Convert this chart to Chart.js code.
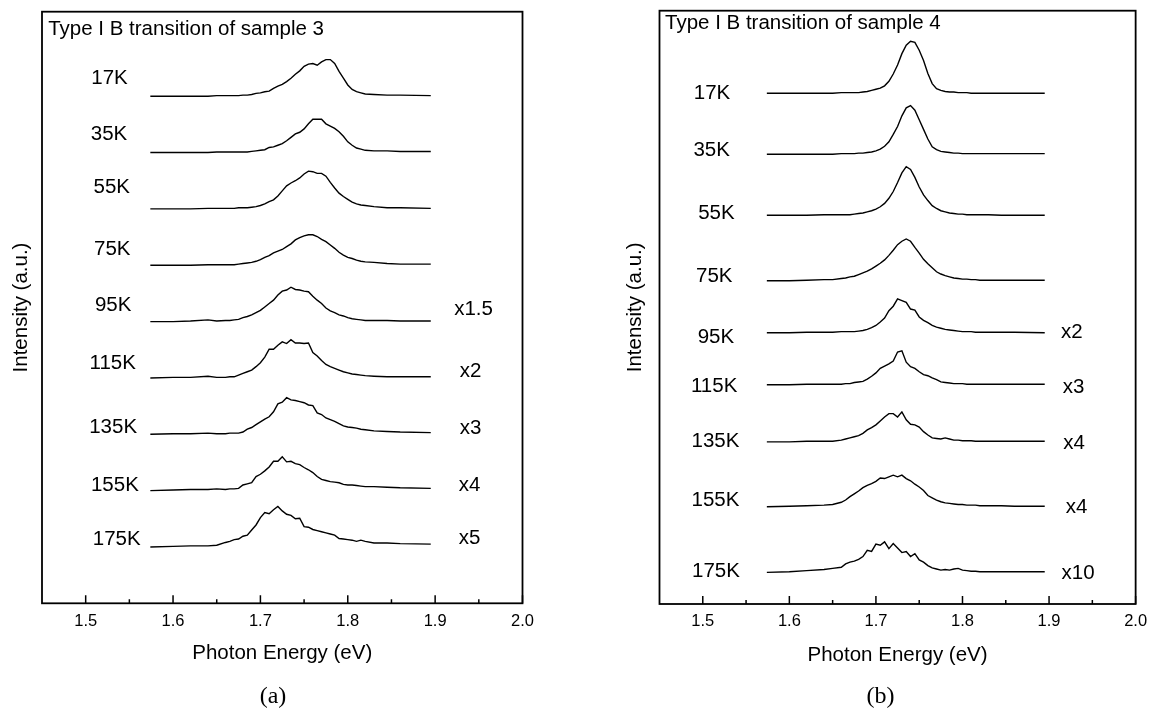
<!DOCTYPE html>
<html>
<head>
<meta charset="utf-8">
<title>Type I B transition</title>
<script src="https://cdn.jsdelivr.net/npm/chart.js@4.4.1/dist/chart.umd.min.js"></script>
<style>
  body { margin: 0; background: #fff; }
  #wrap { position: relative; width: 1155px; height: 708px; }
  #wrap canvas { position: absolute; top: 0; }
</style>
</head>
<body>
<div id="wrap">
  <canvas id="chartA" width="560" height="708" style="left:0"></canvas>
  <canvas id="chartB" width="575" height="708" style="left:580px"></canvas>
</div>
<script>
// Energy grid shared by every spectrum (eV)
const energies = [1.574, 1.600, 1.620, 1.640, 1.650,
  1.660, 1.665, 1.670, 1.675, 1.680, 1.685, 1.690, 1.695, 1.700, 1.705,
  1.710, 1.715, 1.720, 1.725, 1.730, 1.735, 1.740, 1.745, 1.750, 1.755,
  1.760, 1.765, 1.770, 1.775, 1.780, 1.785, 1.790, 1.795, 1.800, 1.805,
  1.810, 1.815, 1.820, 1.830, 1.845, 1.860, 1.895];

const temperatures = ['17K', '35K', '55K', '75K', '95K', '115K', '135K', '155K', '175K'];
const majorTicks = [1.5, 1.6, 1.7, 1.8, 1.9, 2.0];
const minorTicks = [1.55, 1.65, 1.75, 1.85, 1.95];

// Sample 3: vertical offsets and intensities (a.u.)
const offsetsA = [900, 800, 700, 600, 500, 400, 300, 200, 100];
const factorsA = ['', '', '', '', 'x1.5', 'x2', 'x3', 'x4', 'x5'];
const a17  = [0,0,0,0,1,1,1,1,1,2,2,3,5,6,8,9,14,18,21,26,32,39,45,53,57,58,55,61,65,65,58,44,32,20,12,8,6,4,3,2,2,1];
const a35  = [0,0,0,0,1,1,1,1,1,1,1,2,3,4,5,9,10,13,16,21,27,33,36,42,51,59,59,59,51,47,43,37,29,19,13,8,6,4,3,3,2,2];
const a55  = [0,0,0,1,1,1,1,1,2,2,2,3,4,6,9,13,16,23,32,41,46,50,55,62,67,66,63,63,58,47,37,28,22,17,12,9,7,6,4,2,2,1];
const a75  = [0,0,0,1,1,1,1,1,2,3,4,5,7,10,14,17,22,25,28,33,38,45,49,52,54,54,51,46,42,36,30,23,18,14,12,9,7,6,5,3,2,2];
const a95  = [0,0,1,3,1,2,2,3,4,7,9,12,16,20,26,32,38,47,54,56,61,57,56,54,53,45,38,32,24,19,16,12,10,7,5,4,3,2,2,2,1,1];
const a115 = [0,1,1,3,1,1,2,2,5,8,11,14,20,27,37,51,51,58,64,61,68,62,62,61,62,45,39,31,24,20,17,14,11,9,7,6,5,4,3,2,2,2];
const a135 = [0,1,1,2,1,1,2,2,2,4,9,12,17,22,27,31,40,54,57,65,61,60,58,56,52,51,38,35,29,26,23,19,15,13,12,11,9,8,6,5,4,3];
const a155 = [0,1,2,2,3,2,3,3,4,10,12,14,25,29,35,42,52,52,60,51,52,48,46,41,37,32,25,20,18,16,15,14,11,10,10,9,8,7,7,6,5,4];
const a175 = [0,1,2,2,3,8,10,13,14,19,21,30,39,52,61,59,66,72,64,58,56,50,51,36,35,31,29,27,25,23,21,15,14,13,12,10,12,10,7,7,6,5];

// Sample 4: vertical offsets and intensities (a.u.)
const offsetsB = [904, 796, 688, 572, 480, 388, 287, 172, 56];
const factorsB = ['', '', '', '', 'x2', 'x3', 'x4', 'x4', 'x10'];
const b17  = [0,0,0,0,0,1,1,1,1,1,2,3,5,7,9,13,21,34,50,70,85,92,90,76,58,35,17,8,5,3,2,2,1,1,1,0,0,0,0,0,0,0];
const b35  = [0,0,0,0,0,1,1,1,1,2,2,3,4,6,9,14,22,35,49,68,82,86,78,61,44,27,13,8,5,4,3,2,2,1,1,1,1,1,1,1,1,1];
const b55  = [0,0,0,1,1,1,1,1,2,3,4,6,8,11,15,21,30,42,58,75,86,81,67,50,36,26,17,12,8,6,4,3,2,2,1,1,1,1,1,0,0,0];
const b75  = [0,0,1,2,2,4,5,7,8,11,14,17,21,26,31,37,45,54,64,70,74,70,59,49,38,30,23,16,12,9,7,5,4,3,3,2,2,1,1,1,1,1];
const b95  = [0,0,1,1,1,2,2,2,2,3,4,6,9,13,19,26,39,47,60,57,54,42,40,28,22,18,13,10,8,6,5,4,3,2,2,2,1,1,1,1,1,0];
const b115 = [0,0,1,1,1,1,2,2,4,5,6,10,15,21,29,33,37,42,58,60,40,32,29,23,18,16,12,9,5,4,3,2,2,2,1,1,1,1,1,1,1,1];
const b135 = [0,0,1,1,1,3,5,7,9,11,15,21,25,30,37,44,50,50,44,53,39,31,30,26,18,12,7,6,5,7,5,3,3,2,2,2,1,1,1,1,1,1];
const b155 = [0,1,2,3,4,8,12,18,23,28,34,38,41,45,51,50,53,56,53,56,50,46,40,35,29,20,16,12,9,7,6,5,4,4,3,3,3,2,2,2,1,1];
const b175 = [0,1,3,5,7,9,15,18,20,23,28,39,37,50,48,54,42,51,43,35,37,28,33,22,18,12,8,6,4,5,4,6,7,4,3,2,2,1,1,1,1,1];

const sans = '"Liberation Sans", Arial, Helvetica, sans-serif';
const serif = '"Liberation Serif", "Times New Roman", serif';

Chart.defaults.font.family = sans;
Chart.defaults.color = '#000';

// Frame, inward ticks and all the free text of a panel
const panelDecor = {
    id: 'panelDecor',
    afterDraw(chart, args, opts) {
        const { ctx, chartArea: area, scales: { x, y } } = chart;
        ctx.save();
        ctx.strokeStyle = '#000';
        ctx.lineWidth = 1.8;
        ctx.strokeRect(area.left, area.top, area.right - area.left, area.bottom - area.top);

        ctx.lineWidth = 1.5;
        ctx.beginPath();
        majorTicks.forEach(v => {
            const px = x.getPixelForValue(v);
            ctx.moveTo(px, area.bottom);
            ctx.lineTo(px, area.bottom - 8);
        });
        minorTicks.forEach(v => {
            const px = x.getPixelForValue(v);
            ctx.moveTo(px, area.bottom);
            ctx.lineTo(px, area.bottom - 4);
        });
        ctx.stroke();

        ctx.fillStyle = '#000';
        ctx.font = '20.5px ' + sans;
        ctx.textBaseline = 'middle';
        ctx.textAlign = 'left';
        ctx.fillText(opts.title, area.left + opts.titleDx, area.top + opts.titleDy);

        ctx.textAlign = 'center';
        temperatures.forEach((t, i) => {
            ctx.fillText(t, x.getPixelForValue(opts.labelE[i]), y.getPixelForValue(opts.labelY[i]));
        });
        opts.factors.forEach((f, i) => {
            if (f) {
                ctx.fillText(f, x.getPixelForValue(opts.factorE[i]), y.getPixelForValue(opts.factorY[i]));
            }
        });

        ctx.font = '24px ' + serif;
        ctx.fillText(opts.caption, opts.captionX, opts.captionY);
        ctx.restore();
    }
};

function buildPanel(canvasId, p) {
    const datasets = p.series.map((vals, i) => ({
        label: temperatures[i],
        data: energies.map((e, j) => ({ x: e, y: p.offsets[i] + vals[j] })),
        showLine: true,
        borderColor: '#000',
        borderWidth: 1.4,
        pointRadius: 0,
        fill: false,
        tension: 0
    }));

    return new Chart(document.getElementById(canvasId), {
        type: 'scatter',
        data: { datasets },
        options: {
            responsive: false,
            animation: false,
            events: [],
            layout: { padding: p.padding },
            plugins: {
                legend: { display: false },
                tooltip: { enabled: false },
                panelDecor: p.decor
            },
            scales: {
                x: {
                    type: 'linear',
                    min: 1.45,
                    max: 2.0,
                    grid: { display: false, drawTicks: false },
                    border: { display: false },
                    afterBuildTicks: scale => {
                        scale.ticks = majorTicks.map(v => ({ value: v }));
                    },
                    ticks: {
                        autoSkip: false,
                        padding: p.tickPadding,
                        font: { size: 16.5 },
                        callback: v => v.toFixed(1)
                    },
                    title: {
                        display: true,
                        text: 'Photon Energy (eV)',
                        font: { size: 20.5 },
                        padding: { top: p.xTitlePad, bottom: 0 }
                    }
                },
                y: {
                    min: 0,
                    max: 1050,
                    grid: { display: false, drawTicks: false },
                    border: { display: false },
                    ticks: { display: false },
                    title: {
                        display: true,
                        text: 'Intensity (a.u.)',
                        font: { size: 20.5 },
                        padding: { top: 0, bottom: p.yTitlePad }
                    }
                }
            }
        },
        plugins: [panelDecor]
    });
}

buildPanel('chartA', {
    series: [a17, a35, a55, a75, a95, a115, a135, a155, a175],
    offsets: offsetsA,
    padding: { left: 9.1, right: 37.5, top: 11.7, bottom: 42.4 },
    tickPadding: 8.6,
    xTitlePad: 0.7,
    yTitlePad: 8.3,
    decor: {
        title: 'Type I B transition of sample 3',
        titleDx: 6.2,
        titleDy: 17.3,
        labelE: [1.5273, 1.5267, 1.5298, 1.5304, 1.5314, 1.5309, 1.5314, 1.5334, 1.5355],
        labelY: [932, 832, 739, 628, 528, 425, 312, 210, 114],
        factors: factorsA,
        factorE: [0, 0, 0, 0, 1.944, 1.9407, 1.9407, 1.9394, 1.9394],
        factorY: [0, 0, 0, 0, 521, 411, 311, 210, 115],
        caption: '(a)',
        captionX: 273,
        captionY: 697
    }
});

buildPanel('chartB', {
    series: [b17, b35, b55, b75, b95, b115, b135, b155, b175],
    offsets: offsetsB,
    padding: { left: 43.4, right: 16.7, top: 10.7, bottom: 40.7 },
    tickPadding: 7.9,
    xTitlePad: 3.1,
    yTitlePad: 11.5,
    decor: {
        title: 'Type I B transition of sample 4',
        titleDx: 5.5,
        titleDy: 12.8,
        labelE: [1.5107, 1.5103, 1.5157, 1.5132, 1.5152, 1.5131, 1.5147, 1.5147, 1.5152],
        labelY: [904, 802, 691, 579, 472, 385, 287, 184, 57],
        factors: factorsB,
        factorE: [0, 0, 0, 0, 1.9264, 1.9284, 1.929, 1.9318, 1.9336],
        factorY: [0, 0, 0, 0, 480, 384, 284, 171, 55],
        caption: '(b)',
        captionX: 300.5,
        captionY: 697
    }
});
</script>
</body>
</html>
